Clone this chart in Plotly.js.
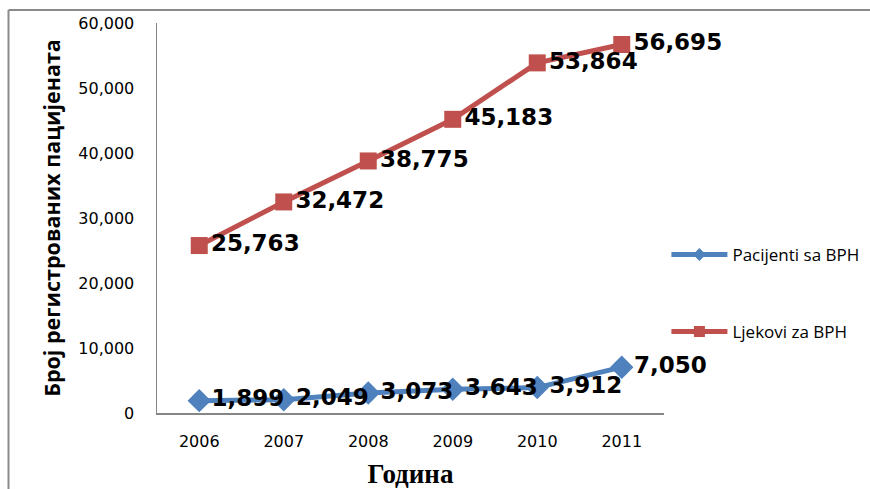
<!DOCTYPE html>
<html><head><meta charset="utf-8">
<script src="https://cdn.plot.ly/plotly-3.0.1.min.js"></script>
<style>body{margin:0;background:#fff}#c{width:870px;height:489px}</style>
</head><body><div id="c"></div>
<script>
const years = ['2006','2007','2008','2009','2010','2011'];
const pacijenti = [1899, 2049, 3073, 3643, 3912, 7050];
const ljekovi = [25763, 32472, 38775, 45183, 53864, 56695];
const yTicks = [0, 10000, 20000, 30000, 40000, 50000, 60000];
const yTickText = ['0','10,000','20,000','30,000','40,000','50,000','60,000'];
const fmt = v => v.toLocaleString('en-US');

const sans = 'DejaVu Sans, sans-serif';
const lblFont = {family:sans, size:23, color:'#000'};
const data = [
  {x: years, y: pacijenti, name:'Pacijenti sa BPH', mode:'lines+markers+text', showlegend:false,
   line:{color:'#4F81BD', width:5}, marker:{symbol:'diamond', size:18, color:'#4F81BD'},
   text: pacijenti.map(v=>'<b>'+fmt(v)+'</b>'), textposition:'middle right', textfont:lblFont, cliponaxis:false},
  {x: years, y: ljekovi, name:'Ljekovi za BPH', mode:'lines+markers+text', showlegend:false,
   line:{color:'#C0504D', width:5}, marker:{symbol:'square', size:17, color:'#C0504D'},
   text: ljekovi.map(v=>'<b>'+fmt(v)+'</b>'), textposition:'middle right', textfont:lblFont, cliponaxis:false},
  {x:[null], y:[null], name:'Pacijenti sa BPH', mode:'lines+markers', legendgroup:'a',
   line:{color:'#4F81BD', width:5}, marker:{symbol:'diamond', size:10, color:'#4F81BD'}},
  {x:[null], y:[null], name:'Ljekovi za BPH', mode:'lines+markers', legendgroup:'b',
   line:{color:'#C0504D', width:5}, marker:{symbol:'square', size:11, color:'#C0504D'}}
];
const layout = {
  width:870, height:489,
  margin:{l:157, r:206, t:23, b:76},
  paper_bgcolor:'#fff', plot_bgcolor:'#fff',
  showlegend:true,
  legend:{xref:'container', yref:'container', x:0.766, y:0.40, xanchor:'left', yanchor:'middle', traceorder:'grouped', tracegroupgap:52,
    font:{family:'Open Sans, sans-serif', size:17, color:'#000'}, itemwidth:56, bgcolor:'rgba(0,0,0,0)'},
  xaxis:{type:'category', range:[-0.5,5.5], showline:true, linecolor:'#868686', linewidth:1.5,
    showgrid:false, zeroline:false, ticks:'', ticklabelstandoff:13, tickfont:{family:sans, size:16, color:'#000'},
    title:{text:'<b>Година</b>', font:{family:'Liberation Serif, serif', size:27, color:'#000'}, standoff:14}},
  yaxis:{range:[0,60000], tickvals:yTicks, ticktext:yTickText, showline:true, linecolor:'#868686', linewidth:1.5,
    showgrid:false, zeroline:false, ticks:'', ticklen:0, ticklabelstandoff:18, tickfont:{family:sans, size:16, color:'#000'},
    title:{text:'<b>Број регистрованих пацијената</b>', font:{family:'Open Sans, sans-serif', size:21.5, color:'#000'}, standoff:12}},
  shapes:[
    {type:'line', xref:'paper', yref:'paper', x0:(8.5-157)/507, x1:(870-157)/507, y0:(413-10)/390, y1:(413-10)/390, line:{color:'#8a8a8a', width:2}},
    {type:'line', xref:'paper', yref:'paper', x0:(8.5-157)/507, x1:(8.5-157)/507, y0:(413-10)/390, y1:-0.3, line:{color:'#8a8a8a', width:2}}
  ]
};
Plotly.newPlot('c', data, layout, {displayModeBar:false, staticPlot:true});
</script></body></html>
